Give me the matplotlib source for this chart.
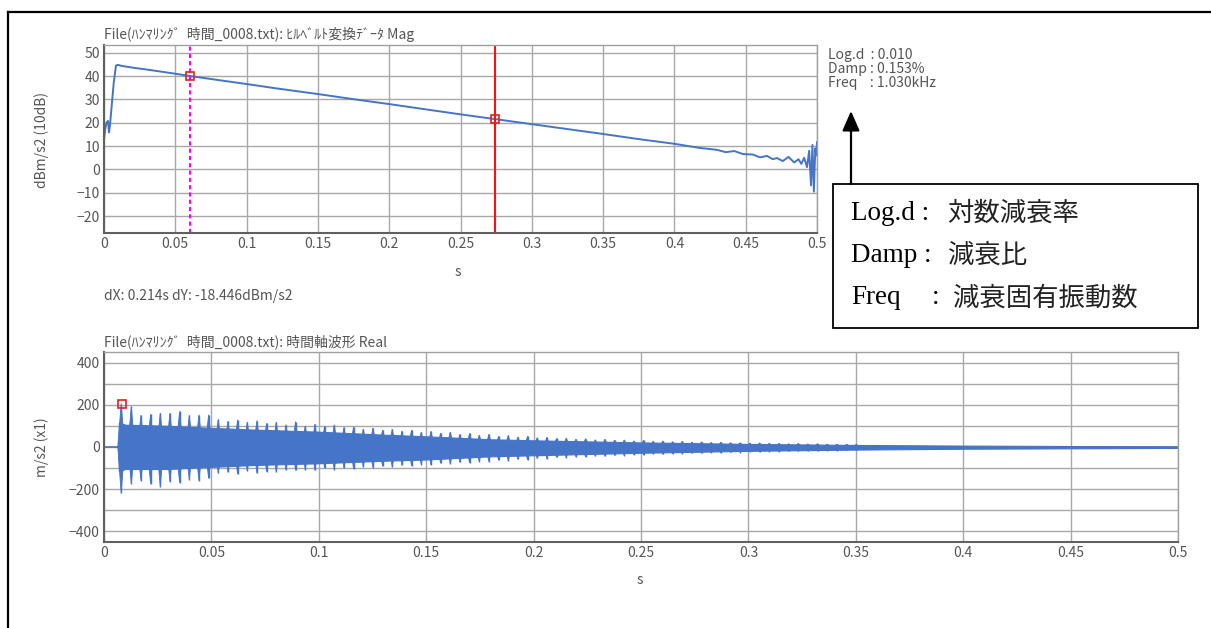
import numpy as np
import matplotlib
matplotlib.use("Agg")
import matplotlib.pyplot as plt
from matplotlib.lines import Line2D
from matplotlib.patches import Rectangle, FancyArrowPatch

plt.rcParams['font.family'] = ['Noto Sans CJK JP', 'DejaVu Sans']

W, H = 1211, 628

# --- upper chart: Hilbert magnitude (dB) ---
mag_t = [0.0, 0.0008, 0.0017, 0.0028, 0.0035, 0.0042, 0.0055, 0.0068, 0.0084, 0.0098,
         0.012, 0.02, 0.03, 0.04, 0.05, 0.0605, 0.08, 0.1, 0.12, 0.15, 0.175, 0.2,
         0.225, 0.25, 0.2745, 0.3, 0.325, 0.35, 0.375, 0.4, 0.418, 0.43, 0.436, 0.442,
         0.448, 0.455, 0.46, 0.465, 0.469, 0.472, 0.476, 0.48, 0.484, 0.487, 0.489,
         0.491, 0.493, 0.4945, 0.4958, 0.4968, 0.4978, 0.4988, 0.4995, 0.5]
mag_db = [12.8, 17.0, 20.0, 20.8, 15.9, 19.0, 28.0, 37.0, 44.5, 44.8,
          44.4, 43.6, 42.8, 41.9, 41.0, 40.0, 38.3, 36.6, 34.8, 32.3, 30.1, 28.0,
          25.8, 23.6, 21.55, 19.4, 17.3, 15.2, 13.0, 11.0, 9.2, 8.4, 7.4, 7.9,
          6.6, 6.4, 5.2, 5.8, 4.4, 4.9, 3.6, 5.4, 3.0, 4.4, 2.4,
          5.0, 1.0, 8.0, -6.8, 10.5, -9.5, 9.0, 6.0, 11.7]
cursor_a = (0.0605, 40.0)
cursor_b = (0.2745, 21.55)

# --- lower chart: time waveform (m/s2), body envelope + beat spikes ---
body_t = [0.0068, 0.0069, 0.01, 0.03, 0.05, 0.07, 0.10, 0.13, 0.15, 0.18,
          0.20, 0.25, 0.30, 0.35, 0.40, 0.45, 0.50]
body_hi = [0, 115, 105, 100, 90, 82, 72, 58, 50, 36,
           31, 21, 14, 9, 6, 4, 3]
body_lo = [0, -115, -105, -105, -95, -86, -78, -66, -60, -45,
           -40, -28, -19, -13, -9, -7, -5]

spike_t = [0.0080, 0.0127, 0.0172, 0.0217, 0.0262, 0.0307, 0.0352, 0.0397, 0.0442, 0.0487,
           0.0532, 0.0577, 0.0622, 0.0667, 0.0712, 0.0757, 0.0802, 0.0847, 0.0892, 0.0937,
           0.0982, 0.1027, 0.1072, 0.1117, 0.1162, 0.1207, 0.1252, 0.1297, 0.1342, 0.1387,
           0.1432, 0.1477, 0.1522, 0.1567, 0.1612, 0.1657, 0.1702, 0.1747, 0.1792, 0.1837,
           0.1882, 0.1927, 0.1972, 0.2017, 0.2062, 0.2107, 0.2152, 0.2197, 0.2242, 0.2287,
           0.2332, 0.2377, 0.2422, 0.2467, 0.2512, 0.2557, 0.2602, 0.2647, 0.2692, 0.2737,
           0.2782, 0.2827, 0.2872, 0.2917, 0.2962, 0.3007, 0.3052, 0.3097, 0.3142, 0.3187,
           0.3232, 0.3277, 0.3322, 0.3367, 0.3412, 0.3457, 0.3502]
spike_hi = [205, 192, 150, 155, 160, 160, 168, 150, 152, 152,
            130, 122, 128, 118, 125, 112, 118, 105, 120, 100,
            108, 98, 105, 92, 95, 85, 90, 80, 84, 75,
            80, 70, 74, 65, 70, 60, 64, 56, 60, 50,
            54, 47, 50, 44, 46, 40, 42, 37, 39, 34,
            36, 32, 33, 29, 31, 27, 28, 25, 26, 23,
            24, 21, 22, 20, 20, 18, 19, 17, 17, 15,
            16, 14, 15, 13, 13, 12, 12]
spike_lo = [-220, -175, -160, -175, -189, -165, -170, -155, -160, -150,
            -125, -120, -130, -115, -125, -118, -120, -110, -112, -108,
            -112, -100, -108, -100, -104, -96, -98, -92, -95, -88,
            -90, -84, -86, -78, -80, -74, -76, -70, -70, -64,
            -66, -60, -62, -55, -57, -50, -52, -47, -48, -44,
            -45, -41, -42, -38, -39, -35, -36, -33, -33, -31,
            -31, -28, -29, -26, -27, -24, -25, -23, -23, -21,
            -21, -20, -20, -18, -18, -17, -17]
wave_peak = (0.0082, 205)

x_ticks = [0, 0.05, 0.1, 0.15, 0.2, 0.25, 0.3, 0.35, 0.4, 0.45, 0.5]
x_labels = ["0", "0.05", "0.1", "0.15", "0.2", "0.25", "0.3", "0.35", "0.4", "0.45", "0.5"]
top_yticks = [-20, -10, 0, 10, 20, 30, 40, 50]
bot_yticks = [-400, -200, 0, 200, 400]
bot_yminor = [-300, -100, 100, 300]

blue = '#4674c6'
txt_gray = '#555555'
spike_w = 0.0016  # half width of a beat wedge, in seconds


def px(x, y):
    return x / W, 1 - y / H


def style_axes(ax):
    ax.grid(True, which='both', color='#a8a8a8', lw=1.0)
    ax.set_axisbelow(True)
    for s in ['top', 'right']:
        ax.spines[s].set_color('#a0a0a0')
        ax.spines[s].set_linewidth(1.0)
    for s in ['left', 'bottom']:
        ax.spines[s].set_color('#606060')
        ax.spines[s].set_linewidth(1.5)
    ax.tick_params(which='both', length=0, pad=3, labelsize=10, colors=txt_gray)
    ax.set_xticks(x_ticks)
    ax.set_xticklabels(x_labels)
    ax.set_xlim(0, 0.5)


fig = plt.figure(figsize=(W / 100, H / 100), dpi=100)

# upper chart
ax1 = fig.add_axes([104 / W, 1 - 233 / H, (817 - 104) / W, (233 - 45) / H])
style_axes(ax1)
ax1.plot(mag_t, mag_db, color=blue, lw=1.4)
ax1.set_ylim(-27.2, 53.3)
ax1.set_yticks(top_yticks)
ax1.axvline(cursor_a[0], color='#ff00ff', lw=1.5, ls=(0, (2, 1.5)))
ax1.axvline(cursor_b[0], color='#ff1010', lw=1.5)
for c in (cursor_a, cursor_b):
    ax1.plot(c[0], c[1], marker='s', ms=6, mfc='none', mec='#e02020', mew=1.2)

# lower chart
ax2 = fig.add_axes([104 / W, 1 - 541.7 / H, (1178 - 104) / W, (541.7 - 352) / H])
style_axes(ax2)
ax2.plot([0, body_t[0]], [0, 0], color=blue, lw=1.2)
ax2.fill_between(body_t, body_lo, body_hi, color=blue, lw=0.8, edgecolor=blue)
for t, hi, lo in zip(spike_t, spike_hi, spike_lo):
    ax2.fill([t - spike_w, t, t + spike_w], [0, hi, 0], color=blue, lw=0.6)
    ax2.fill([t - spike_w, t, t + spike_w], [0, lo, 0], color=blue, lw=0.6)
ax2.vlines(spike_t, spike_lo, spike_hi, color=blue, lw=1.0)
ax2.set_ylim(-450, 450)
ax2.set_yticks(bot_yticks)
ax2.set_yticks(bot_yminor, minor=True)
ax2.plot(wave_peak[0], wave_peak[1], marker='s', ms=6, mfc='none', mec='#e02020', mew=1.2)

# chart texts
fig.text(*px(104, 34), "File(ﾊﾝﾏﾘﾝｸﾞ  時間_0008.txt): ﾋﾙﾍﾞﾙﾄ変換ﾃﾞｰﾀ Mag",
         fontsize=10, color=txt_gray, va='center', ha='left')
fig.text(*px(104, 342), "File(ﾊﾝﾏﾘﾝｸﾞ  時間_0008.txt): 時間軸波形 Real",
         fontsize=10, color=txt_gray, va='center', ha='left')
fig.text(*px(42, 140), "dBm/s2 (10dB)", rotation=90, fontsize=10, color=txt_gray,
         va='center', ha='center')
fig.text(*px(42, 447), "m/s2 (x1)", rotation=90, fontsize=10, color=txt_gray,
         va='center', ha='center')
fig.text(*px(458, 272), "s", fontsize=10, color=txt_gray, va='center', ha='center')
fig.text(*px(640, 580), "s", fontsize=10, color=txt_gray, va='center', ha='center')
fig.text(*px(104, 296), "dX: 0.214s dY: -18.446dBm/s2", fontsize=10, color=txt_gray,
         va='center', ha='left')
fig.text(*px(828, 55), "Log.d  : 0.010", fontsize=10, color=txt_gray, va='center')
fig.text(*px(828, 69), "Damp : 0.153%", fontsize=10, color=txt_gray, va='center')
fig.text(*px(828, 83), "Freq    : 1.030kHz", fontsize=10, color=txt_gray, va='center')

# outer frame
fig.add_artist(Line2D([8 / W, 1.0], [1 - 12 / H, 1 - 12 / H], color='black', lw=1.6))
fig.add_artist(Line2D([8 / W, 8 / W], [0.0, 1 - 12 / H], color='black', lw=1.6))

# explanation box with arrow
fig.add_artist(FancyArrowPatch(px(851, 184), px(851, 111),
                               arrowstyle='-|>,head_length=8,head_width=3.5',
                               color='black', lw=1.6, mutation_scale=1.5,
                               shrinkA=0, shrinkB=0))
x0, y0 = px(833, 328)
fig.add_artist(Rectangle((x0, y0), (1198 - 833) / W, (328 - 184) / H, fill=False,
                         edgecolor='black', lw=1.3))
serif = ['Liberation Serif', 'DejaVu Serif']
rows = [("Log.d :", 213, 947, "対数減衰率"),
        ("Damp :", 255, 948, "減衰比"),
        ("Freq", 298, 953, "減衰固有振動数")]
for lab, y, xc, jp in rows:
    fig.text(*px(851, y), lab, family=serif, fontsize=19.5, color='black', va='center')
    fig.text(*px(xc, y), jp, fontsize=19, color='#222222', va='center')
fig.text(*px(932, 298), ":", family=serif, fontsize=19.5, color='black', va='center')

fig.savefig("out.png", dpi=100)
